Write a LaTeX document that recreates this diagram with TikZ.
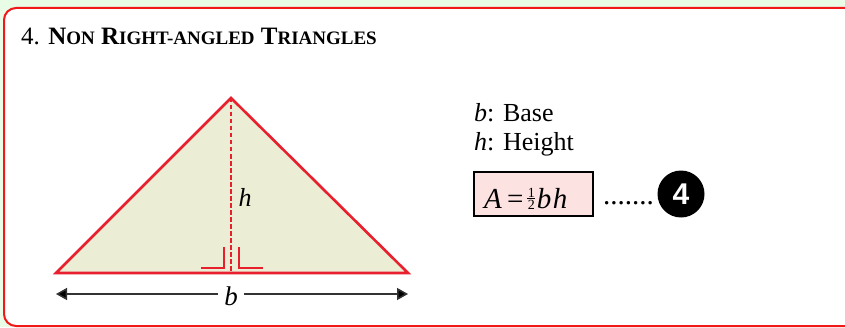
\documentclass[tikz,border=0pt]{standalone}
\usepackage{fontspec}
\setmainfont{Liberation Serif}
\newfontfamily\numfont{Liberation Sans}
\usetikzlibrary{arrows.meta}
\definecolor{bggreen}{HTML}{E8FCE6}
\definecolor{framered}{HTML}{F01818}
\definecolor{trired}{HTML}{E8202E}
\definecolor{trifill}{HTML}{EBEDD4}
\definecolor{boxpink}{HTML}{FDE2E2}
\definecolor{arrgray}{HTML}{333333}
\tikzset{
  x=1pt,y=1pt,
  bodytext/.style={font=\fontsize{26}{30}\selectfont, inner sep=0pt, anchor=base west},
  trianglestyle/.style={draw=trired, line width=2.6pt, fill=trifill, line join=miter},
  altitude/.style={draw=trired, line width=2.8pt, dash pattern=on 4.5pt off 2.5pt},
  rightmark/.style={draw=trired, line width=1.3pt},
  dimarrow/.style={draw=arrgray, line width=1.5pt, {Triangle[length=11pt,width=12pt,fill=black]}-{Triangle[length=11pt,width=12pt,fill=black]}},
  formulabox/.style={draw=black, line width=1.2pt, fill=boxpink, minimum width=119pt, minimum height=44pt, inner sep=0pt},
  badge/.style={circle, fill=black, minimum size=47pt, inner sep=0pt, text=white, font=\numfont\bfseries\fontsize{30}{34}\selectfont}
}
\newcommand{\halfsym}{\raisebox{-1.5pt}{\vbox{\hbox to 8pt{\hss\fontsize{14}{14}\selectfont 1\hss}\kern0.8pt\hrule height 0.8pt\kern1.2pt\hbox to 8pt{\hss\fontsize{14}{14}\selectfont 2\hss}}}}
\begin{document}
\begin{tikzpicture}
\useasboundingbox (0,0) rectangle (845,327);
\fill[bggreen] (0,0) rectangle (845,327);
\draw[framered, line width=2pt, fill=white, rounded corners=12pt] (4,1) rectangle (870,319);
% title
\node[bodytext, font=\fontsize{25}{29}\selectfont] (title) at (21,282)
  {4. \textbf{N{\fontsize{19}{23}\selectfont ON} R{\fontsize{19}{23}\selectfont IGHT-ANGLED} T{\fontsize{19}{23}\selectfont RIANGLES}}};
% triangle
\coordinate (A) at (56,54);
\coordinate (B) at (408,54);
\coordinate (C) at (231,229);
\coordinate (F) at (231,54);
\path[trianglestyle] (A) -- (B) -- (C) -- cycle;
\draw[altitude] (C) -- (F);
\draw[rightmark] (201,59) -- (224,59) -- (224,80);
\draw[rightmark] (239,80) -- (239,59) -- (263,59);
\node[font=\fontsize{26}{30}\selectfont\itshape, inner sep=0pt] (hlab) at (245,130) {h};
% dimension arrow
\coordinate (L) at (56,33);
\coordinate (R) at (408,33);
\draw[dimarrow] (L) -- (R);
\node[fill=white, font=\fontsize{27}{30}\selectfont\itshape, inner xsep=6pt, inner ysep=1pt] (blab) at (231,31) {b};
% legend
\node[bodytext] (base) at (474,205) {\textit{b}: Base};
\node[bodytext] (height) at (474,176) {\textit{h}: Height};
\node[formulabox] (formula) at (533.5,133) {};
\node[bodytext, font=\fontsize{29}{32}\selectfont] (ftext) at (484,119) {\textit{A}\hspace{5pt}=\hspace{4pt}\halfsym\hspace{1.5pt}\textit{b}\hspace{1.5pt}\textit{h}};
\node[bodytext, font=\fontsize{29}{32}\selectfont] (dots) at (603,123) {.......};
\node[badge] (num) at (681,133) {4};
\end{tikzpicture}
\end{document}
